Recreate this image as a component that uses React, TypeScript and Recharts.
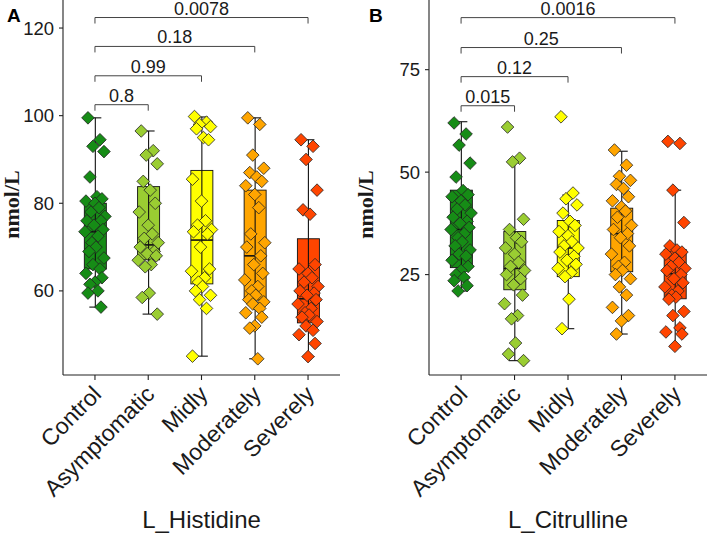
import React from 'react';
import { ComposedChart, XAxis, YAxis, Bar, Scatter, ReferenceLine } from 'recharts';

const FONT = '"Liberation Sans", Arial, Helvetica, sans-serif';
const SERIF = '"Liberation Serif", "Times New Roman", serif';

const CATEGORIES = ['Control', 'Asymptomatic', 'Midly', 'Moderately', 'Severely'];
const COLORS = ['#168c16', '#9acd32', '#ffff00', '#ffa500', '#ff4500'];

// ---- L_Histidine (panel A) ----
const HIS_CONTROL = [99.5, 94.5, 93, 91.8, 86, 81.5, 81, 80.5, 80, 79, 78, 77, 76, 76, 75, 74, 73.5, 72.5, 71, 70, 69, 67.5, 66, 65, 64, 63, 62, 61.5, 60, 59.5, 56.3];
const HIS_ASYMP = [96.5, 92, 91, 89, 85, 83, 80, 78, 75, 73, 72, 71, 70, 69, 68.5, 68, 67, 66, 65.5, 59.5, 58.5, 54.7];
const HIS_MIDLY = [99.8, 98.5, 98, 97.5, 97, 95, 94.5, 85.5, 80.5, 76, 75, 74, 73.5, 73, 70, 65, 64.5, 63, 62, 61, 60, 59, 58, 56, 45.1];
const HIS_MODER = [99.5, 98, 91, 88, 87, 86, 85, 84, 82, 79, 73, 71, 70, 68, 66, 64, 62.5, 61, 60, 59, 58, 57.5, 57, 56, 55, 54, 52, 51.5, 44.5];
const HIS_SEVERE = [94.5, 93, 90, 83, 78.5, 77.5, 66, 65, 64, 63, 62, 61, 60, 59.5, 59, 58, 57, 56, 55, 54.5, 54, 53, 52, 51, 50, 48, 45];
const HIS_MIN = [56.3, 54.7, 45.1, 44.5, 45];
const HIS_Q1 = [65, 67.1, 61.6, 57.9, 52.7];
const HIS_MED = [73.5, 70.5, 71.6, 68, 58.2];
const HIS_Q3 = [80, 83.8, 87.5, 83, 71.9];
const HIS_MAX = [99.5, 96.5, 99.7, 99.5, 94.5];
const HIS_TICKS = [60, 80, 100, 120];
const HIS_P_TO = [2, 3, 4, 5];
const HIS_P_Y = [102.5, 109.1, 115.8, 122.4];
const HIS_P_LABEL = ['0.8', '0.99', '0.18', '0.0078'];

// ---- L_Citrulline (panel B) ----
const CIT_CONTROL = [62, 59.3, 56.6, 52.2, 48.8, 45.5, 44.5, 44, 43, 42, 41, 40, 39, 38, 37.5, 36.5, 36, 35, 34, 33, 32, 31, 30, 29.5, 28.5, 27, 26, 25, 24.3, 23.5, 22.3, 21];
const CIT_ASYMP = [61, 53.4, 52.5, 38.5, 36, 34, 33, 31.5, 30, 28, 27, 26, 25, 24, 22.5, 20, 17.9, 15, 14.2, 8.3, 5.6, 4];
const CIT_MIDLY = [63.5, 44.9, 43.5, 42, 40, 38, 37, 35.5, 34.5, 33, 32, 31.5, 30.5, 29.5, 28.5, 27.5, 26.5, 25.5, 24.5, 19, 11.8];
const CIT_MODER = [55.4, 51.7, 49, 48, 47, 46, 44, 43, 41.5, 40.5, 39, 37, 36, 35, 34, 32, 30, 28, 27, 26, 25, 24, 22, 20, 17, 15, 13.7, 10.5];
const CIT_SEVERE = [57.5, 57, 45.6, 37.7, 32, 31, 30.5, 30, 29, 28, 27, 26.5, 26, 25, 24, 23, 22, 21, 20, 19.5, 19, 16, 15, 12, 11, 10.5, 7.5];
const CIT_MIN = [21, 4, 11.8, 10.5, 7.4];
const CIT_Q1 = [26.7, 21.3, 24.5, 25.7, 19.1];
const CIT_MED = [36, 26.5, 31.5, 35, 25.2];
const CIT_Q3 = [45.6, 35.5, 38.2, 41.2, 31.1];
const CIT_MAX = [62.3, 53, 44.4, 55.1, 45.6];
const CIT_TICKS = [25, 50, 75];
const CIT_P_TO = [2, 3, 4, 5];
const CIT_P_Y = [66.2, 73.3, 80.4, 87.7];
const CIT_P_LABEL = ['0.015', '0.12', '0.25', '0.0016'];

// horizontal jitter pattern (pixels) for the points
const JITTER_PX = [-7, 5, -2, 9, -5, 2, 7, -9, 0, 4, -4, 10, -8, 6, -1, 8, -10, 3, -3, 1, -6, 9, -2, 5, -9, 7, 0, -5, 3, -7, 6, -3];

const XTick = (props: any) => {
  const { x, y, payload } = props;
  const label = CATEGORIES[payload.value - 1];
  return (
    <text
      transform={`translate(${x - 4},${y + 2}) rotate(-45)`}
      textAnchor="end"
      dy="0.72em"
      fontSize={23}
      fontFamily={FONT}
      fill="#1a1a1a"
    >
      {label}
    </text>
  );
};

const BoxShape = (p: any) => {
  const { x, y, width, height, payload } = p;
  if (x == null || y == null) return null;
  const cx = x + width / 2;
  const top = Math.min(y, y + height);
  const bot = Math.max(y, y + height);
  const span = payload.max - payload.min;
  const py = (v: number) => bot - ((v - payload.min) / span) * (bot - top);
  const hw = 11;
  const cap = 6;
  return (
    <g>
      <rect x={cx - hw} y={py(payload.q3)} width={hw * 2} height={py(payload.q1) - py(payload.q3)} fill={payload.color} stroke="#111" strokeWidth={0.9} />
      <line x1={cx - hw} x2={cx + hw} y1={py(payload.med)} y2={py(payload.med)} stroke="#111" strokeWidth={1.6} />
      <line x1={cx} x2={cx} y1={top} y2={bot} stroke="#111" strokeWidth={1.1} />
      <line x1={cx - cap} x2={cx + cap} y1={top} y2={top} stroke="#111" strokeWidth={1.1} />
      <line x1={cx - cap} x2={cx + cap} y1={bot} y2={bot} stroke="#111" strokeWidth={1.1} />
    </g>
  );
};

const Diamond = (p: any) => {
  const { cx, cy, payload } = p;
  if (cx == null || cy == null) return null;
  const dx = JITTER_PX[payload.k % JITTER_PX.length];
  const r = 6.3;
  const X = cx + dx;
  return (
    <path
      d={`M${X},${cy - r}L${X + r},${cy}L${X},${cy + r}L${X - r},${cy}Z`}
      fill={payload.color}
      stroke="#222"
      strokeWidth={0.8}
    />
  );
};

const BracketShape = (p: any) => {
  const { x1, y1, x2, y2 } = p;
  if (x1 == null) return null;
  return <path d={`M${x1},${y1 + 6}V${y1}H${x2}V${y2 + 6}`} stroke="#444" strokeWidth={1} fill="none" />;
};

type PanelProps = {
  letter: string;
  letterX: number;
  title: string;
  values: number[][];
  mins: number[];
  q1s: number[];
  meds: number[];
  q3s: number[];
  maxs: number[];
  domain: [number, number];
  ticks: number[];
  pTo: number[];
  pY: number[];
  pLabel: string[];
  yWidth: number;
  right: number;
};

function Panel(props: PanelProps) {
  const rows = CATEGORIES.map((c, i) => ({
    x: i + 1,
    name: c,
    min: props.mins[i],
    q1: props.q1s[i],
    med: props.meds[i],
    q3: props.q3s[i],
    max: props.maxs[i],
    color: COLORS[i],
  }));
  const points = props.values.flatMap((arr, g) => arr.map((v, k) => ({ x: g + 1, y: v, k, color: COLORS[g] })));
  const axisStroke = { stroke: '#222', strokeWidth: 1.1 };

  const yLabel = (lp: any) => {
    const vb = lp.viewBox || { x: 0, y: 0, width: props.yWidth, height: 375 };
    const lx = vb.x + 11;
    const ly = vb.y + vb.height / 2 + 17;
    return (
      <g>
        <text x={lx} y={ly} transform={`rotate(-90 ${lx} ${ly})`} textAnchor="middle" dominantBaseline="central" fontFamily={SERIF} fontWeight="bold" fontSize={22} fill="#1a1a1a">
          nmol/L
        </text>
        <text x={vb.x + props.letterX} y={vb.y + 22} fontFamily={FONT} fontWeight="bold" fontSize={19} fill="#000">
          {props.letter}
        </text>
      </g>
    );
  };

  const xLabel = (lp: any) => {
    const vb = lp.viewBox || { x: 0, y: 375, width: 277, height: 160 };
    return (
      <text x={vb.x + vb.width / 2} y={vb.y + 153} textAnchor="middle" fontFamily={FONT} fontSize={24} fill="#1a1a1a">
        {props.title}
      </text>
    );
  };

  return (
    <ComposedChart width={354} height={535} data={rows} margin={{ top: 0, right: props.right, bottom: 0, left: 0 }}>
      <XAxis
        type="number"
        dataKey="x"
        domain={[0.4, 5.6]}
        ticks={[1, 2, 3, 4, 5]}
        interval={0}
        allowDataOverflow
        height={160}
        tickSize={5}
        tickLine={axisStroke}
        axisLine={axisStroke}
        tick={<XTick />}
        label={xLabel}
      />
      <YAxis
        type="number"
        dataKey="y"
        domain={props.domain}
        ticks={props.ticks}
        interval={0}
        allowDataOverflow
        width={props.yWidth}
        tickSize={4}
        tickMargin={5}
        tickLine={axisStroke}
        axisLine={axisStroke}
        tick={{ fontSize: 18.5, fill: '#1a1a1a', fontFamily: FONT }}
        label={yLabel}
      />
      <Bar dataKey={(d: any) => [d.min, d.max]} barSize={22} isAnimationActive={false} shape={BoxShape} />
      {props.pTo.map((to, i) => (
        <ReferenceLine
          key={`br${i}`}
          segment={[{ x: 1, y: props.pY[i] }, { x: to, y: props.pY[i] }]}
          stroke="#444"
          ifOverflow="visible"
          shape={BracketShape}
          label={{ value: props.pLabel[i], position: 'top', offset: 3, fontSize: 18, fill: '#1a1a1a', fontFamily: FONT }}
        />
      ))}
      <Scatter data={points} isAnimationActive={false} shape={Diamond} />
    </ComposedChart>
  );
}

export default function App() {
  return (
    <div style={{ position: 'absolute', left: 0, top: 0, width: 708, height: 535, background: '#fff', display: 'flex' }}>
      <Panel
        letter="A"
        letterX={7}
        title="L_Histidine"
        values={[HIS_CONTROL, HIS_ASYMP, HIS_MIDLY, HIS_MODER, HIS_SEVERE]}
        mins={HIS_MIN}
        q1s={HIS_Q1}
        meds={HIS_MED}
        q3s={HIS_Q3}
        maxs={HIS_MAX}
        domain={[40.8, 126.4]}
        ticks={HIS_TICKS}
        pTo={HIS_P_TO}
        pY={HIS_P_Y}
        pLabel={HIS_P_LABEL}
        yWidth={63}
        right={14}
      />
      <Panel
        letter="B"
        letterX={15}
        title="L_Citrulline"
        values={[CIT_CONTROL, CIT_ASYMP, CIT_MIDLY, CIT_MODER, CIT_SEVERE]}
        mins={CIT_MIN}
        q1s={CIT_Q1}
        meds={CIT_MED}
        q3s={CIT_Q3}
        maxs={CIT_MAX}
        domain={[0.5, 92]}
        ticks={CIT_TICKS}
        pTo={CIT_P_TO}
        pY={CIT_P_Y}
        pLabel={CIT_P_LABEL}
        yWidth={75}
        right={1}
      />
    </div>
  );
}
